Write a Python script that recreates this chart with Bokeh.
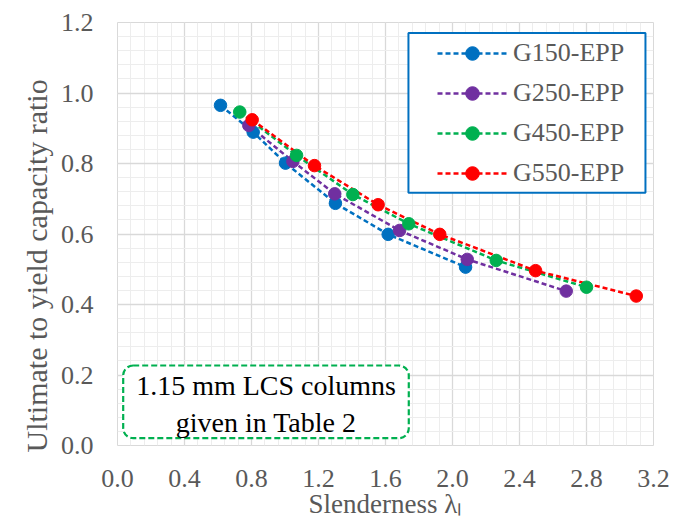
from bokeh.plotting import figure
from bokeh.models import (FixedTicker, NumeralTickFormatter, BoxAnnotation,
                          Label, Legend, LegendItem, Range1d, Title)
from bokeh.embed import file_html
from bokeh.resources import INLINE

# ---- data ----
series_names = ["G150-EPP", "G250-EPP", "G450-EPP", "G550-EPP"]
series_colors = ["#0070C0", "#7030A0", "#00B050", "#FF0000"]

g150_x = [0.615, 0.810, 1.003, 1.301, 1.616, 2.078]
g150_y = [0.965, 0.889, 0.801, 0.687, 0.599, 0.506]

g250_x = [0.784, 1.047, 1.297, 1.684, 2.088, 2.679]
g250_y = [0.908, 0.806, 0.714, 0.610, 0.528, 0.438]

g450_x = [0.730, 1.069, 1.405, 1.739, 2.261, 2.800]
g450_y = [0.946, 0.823, 0.712, 0.629, 0.525, 0.449]

g550_x = [0.804, 1.176, 1.556, 1.924, 2.496, 3.097]
g550_y = [0.924, 0.794, 0.683, 0.599, 0.496, 0.424]

xs = [g150_x, g250_x, g450_x, g550_x]
ys = [g150_y, g250_y, g450_y, g550_y]

x_ticks = [0.0, 0.4, 0.8, 1.2, 1.6, 2.0, 2.4, 2.8, 3.2]
y_ticks = [0.0, 0.2, 0.4, 0.6, 0.8, 1.0, 1.2]

x_title = "Slenderness λₗ"
y_title = "Ultimate to yield capacity ratio"
note_lines = ["1.15 mm LCS columns", "given in Table 2"]

FONT = "Liberation Serif"
GREY = "#595959"

p = figure(width=675, height=524, x_range=Range1d(0, 3.2), y_range=Range1d(0, 1.2),
           output_backend="svg", toolbar_location=None,
           min_border_left=117, min_border_right=22, min_border_top=22, min_border_bottom=79)
p.background_fill_color = "white"
p.border_fill_color = "white"
p.outline_line_color = "#d9d9d9"

x_minor = [round(i * 0.08, 2) for i in range(41)]
y_minor = [round(i * 0.04, 2) for i in range(31)]
p.xaxis.ticker = FixedTicker(ticks=x_ticks, minor_ticks=x_minor)
p.yaxis.ticker = FixedTicker(ticks=y_ticks, minor_ticks=y_minor)
p.xaxis.formatter = NumeralTickFormatter(format="0.0")
p.yaxis.formatter = NumeralTickFormatter(format="0.0")
for ax in (p.xaxis, p.yaxis):
    ax.axis_line_color = None
    ax.major_tick_line_color = None
    ax.minor_tick_line_color = None
    ax.major_tick_out = 0
    ax.major_tick_in = 0
    ax.minor_tick_out = 0
    ax.minor_tick_in = 0
    ax.major_label_text_font = FONT
    ax.major_label_text_font_size = "26px"
    ax.major_label_text_color = GREY
p.xaxis.major_label_standoff = 24
p.yaxis.major_label_standoff = 24

p.xaxis.axis_label = x_title
p.xaxis.axis_label_text_font = FONT
p.xaxis.axis_label_text_font_size = "27px"
p.xaxis.axis_label_text_font_style = "normal"
p.xaxis.axis_label_text_color = GREY
p.xaxis.axis_label_standoff = -1

for g in (p.xgrid, p.ygrid):
    g.grid_line_color = "#d9d9d9"
    g.grid_line_width = 1.3
    g.minor_grid_line_color = "#ededed"
    g.minor_grid_line_width = 1

line_rs, dot_rs = [], []
for x, y, c in zip(xs, ys, series_colors):
    line_rs.append(p.line(x, y, line_color=c, line_width=2.5, line_dash="5 3"))
for x, y, c in zip(xs, ys, series_colors):
    dot_rs.append(p.scatter(x, y, marker="circle", size=12.5, fill_color=c, line_color=c))

# legend frame
p.add_layout(BoxAnnotation(left=1.737, right=3.152, top=1.170, bottom=0.717,
                           fill_color="white", fill_alpha=1,
                           line_color="#0070C0", line_alpha=1, line_width=2))
legend = Legend(items=[LegendItem(label=n, renderers=[l, d])
                       for n, l, d in zip(series_names, line_rs, dot_rs)],
                location=(320, 255), padding=0, margin=0, spacing=6,
                glyph_width=70, glyph_height=34, label_height=34, label_standoff=6,
                border_line_color=None, background_fill_alpha=0,
                label_text_font=FONT, label_text_font_size="26px", label_text_color=GREY)
p.add_layout(legend)

# note box
p.add_layout(BoxAnnotation(left=0.034, right=1.739, top=0.227, bottom=0.0207,
                           fill_color="white", fill_alpha=1, border_radius=10,
                           line_color="#00B050", line_alpha=1, line_width=2.2,
                           line_dash="6 3"))
p.add_layout(Label(x=0.887, y=0.170, text=note_lines[0], text_align="center",
                   text_baseline="alphabetic", text_font=FONT, text_font_size="28px",
                   text_color="black"))
p.add_layout(Label(x=0.887, y=0.065, text=note_lines[1], text_align="center",
                   text_baseline="alphabetic", text_font=FONT, text_font_size="28px",
                   text_color="black"))

# y axis title (offset toward the bottom, like the reference)
p.add_layout(Title(text=y_title, align="left", offset=-7, standoff=10,
                   text_font=FONT, text_font_size="30px", text_font_style="normal",
                   text_color=GREY), "left")

open("out.html", "w").write(file_html(p, INLINE))
